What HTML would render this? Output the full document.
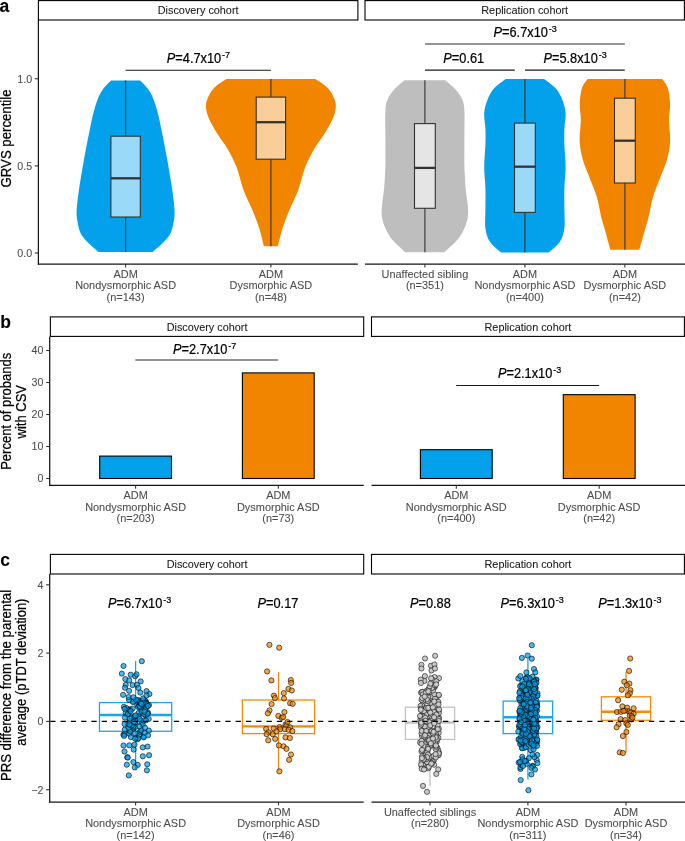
<!DOCTYPE html><html><head><meta charset="utf-8"><style>html,body{margin:0;padding:0;overflow:hidden;background:#fff}svg{display:block;will-change:transform}text{font-family:"Liberation Sans",sans-serif}</style></head><body>
<svg width="685" height="841" viewBox="0 0 685 841">
<text x="-0.5" y="11.6" font-size="17.5" text-anchor="start" fill="#000" stroke="#000" stroke-width="0.08" font-weight="bold">a</text>
<rect x="38.4" y="0.6" width="319.5" height="19.4" fill="#fff" stroke="#000" stroke-width="1.1"/>
<text x="198.15" y="14.4" font-size="10.85" text-anchor="middle" fill="#1a1a1a" stroke="#1a1a1a" stroke-width="0.08" font-weight="normal">Discovery cohort</text>
<rect x="365" y="0.6" width="319.4" height="19.4" fill="#fff" stroke="#000" stroke-width="1.1"/>
<text x="524.7" y="14.4" font-size="10.85" text-anchor="middle" fill="#1a1a1a" stroke="#1a1a1a" stroke-width="0.08" font-weight="normal">Replication cohort</text>
<path d="M140.3,80.6 C141.98,82.6 147.58,87.58 150.4,92.6 C153.22,97.62 155.32,104.3 157.2,110.7 C159.08,117.1 160,122.72 161.7,131 C163.4,139.28 165.7,150.97 167.4,160.4 C169.1,169.83 170.77,180.05 171.9,187.6 C173.03,195.15 173.75,201.3 174.2,205.7 C174.65,210.1 174.67,211.45 174.6,214 C174.53,216.55 174.43,217.87 173.8,221 C173.17,224.13 172.43,229.33 170.8,232.8 C169.17,236.27 167.02,238.6 164,241.8 C160.98,245 154.58,250.3 152.7,252 L98.5,252 C96.62,250.3 90.22,245 87.2,241.8 C84.18,238.6 82.03,236.27 80.4,232.8 C78.77,229.33 78.03,224.13 77.4,221 C76.77,217.87 76.67,216.55 76.6,214 C76.53,211.45 76.55,210.1 77,205.7 C77.45,201.3 78.17,195.15 79.3,187.6 C80.43,180.05 82.1,169.83 83.8,160.4 C85.5,150.97 87.8,139.28 89.5,131 C91.2,122.72 92.12,117.1 94,110.7 C95.88,104.3 97.98,97.62 100.8,92.6 C103.62,87.58 109.22,82.6 110.9,80.6 Z" fill="#03a0eb"/>
<path d="M315.4,79 C317.47,80.5 324.6,84.6 327.8,88 C331,91.4 333.28,96 334.6,99.4 C335.92,102.8 336.08,105.02 335.7,108.4 C335.32,111.78 334.37,115.18 332.3,119.7 C330.23,124.22 326.32,130.62 323.3,135.5 C320.28,140.38 317.22,143.73 314.2,149 C311.18,154.27 307.83,160.32 305.2,167.1 C302.57,173.88 301.03,182.55 298.4,189.7 C295.77,196.85 292.03,203.6 289.4,210 C286.77,216.4 284.52,222.07 282.6,228.1 C280.68,234.13 278.68,243.18 277.9,246.2 L263.9,246.2 C263.12,243.18 261.12,234.13 259.2,228.1 C257.28,222.07 255.03,216.4 252.4,210 C249.77,203.6 246.03,196.85 243.4,189.7 C240.77,182.55 239.23,173.88 236.6,167.1 C233.97,160.32 230.62,154.27 227.6,149 C224.58,143.73 221.52,140.38 218.5,135.5 C215.48,130.62 211.57,124.22 209.5,119.7 C207.43,115.18 206.48,111.78 206.1,108.4 C205.72,105.02 205.88,102.8 207.2,99.4 C208.52,96 210.8,91.4 214,88 C217.2,84.6 224.33,80.5 226.4,79 Z" fill="#f28500"/>
<path d="M445.2,80.2 C446.9,81.7 452.57,86 455.4,89.2 C458.23,92.4 460.7,95.82 462.2,99.4 C463.7,102.98 464.03,104.3 464.4,110.7 C464.77,117.1 464.4,128.77 464.4,137.8 C464.4,146.83 464.2,156.62 464.4,164.9 C464.6,173.18 465.03,180.72 465.6,187.5 C466.17,194.28 467.43,200.7 467.8,205.6 C468.17,210.5 468.37,213.13 467.8,216.9 C467.23,220.67 466.08,224.43 464.4,228.2 C462.72,231.97 461.03,235.48 457.7,239.5 C454.37,243.52 446.62,250.17 444.4,252.3 L405.4,252.3 C403.18,250.17 395.43,243.52 392.1,239.5 C388.77,235.48 387.08,231.97 385.4,228.2 C383.72,224.43 382.57,220.67 382,216.9 C381.43,213.13 381.63,210.5 382,205.6 C382.37,200.7 383.63,194.28 384.2,187.5 C384.77,180.72 385.2,173.18 385.4,164.9 C385.6,156.62 385.4,146.83 385.4,137.8 C385.4,128.77 385.03,117.1 385.4,110.7 C385.77,104.3 386.1,102.98 387.6,99.4 C389.1,95.82 391.57,92.4 394.4,89.2 C397.23,86 402.9,81.7 404.6,80.2 Z" fill="#bebebe"/>
<path d="M544.1,79 C545.98,80.52 552.38,84.7 555.4,88.1 C558.42,91.5 560.5,95.27 562.2,99.4 C563.9,103.53 565.23,108 565.6,112.9 C565.97,117.8 564.6,123.52 564.4,128.8 C564.2,134.08 564.2,138.2 564.4,144.6 C564.6,151 565.6,160.05 565.6,167.2 C565.6,174.35 564.6,180.35 564.4,187.5 C564.2,194.65 564.4,203.32 564.4,210.1 C564.4,216.88 565.15,222.92 564.4,228.2 C563.65,233.48 562.53,237.73 559.9,241.8 C557.27,245.87 550.48,250.8 548.6,252.6 L501.2,252.6 C499.32,250.8 492.53,245.87 489.9,241.8 C487.27,237.73 486.15,233.48 485.4,228.2 C484.65,222.92 485.4,216.88 485.4,210.1 C485.4,203.32 485.6,194.65 485.4,187.5 C485.2,180.35 484.2,174.35 484.2,167.2 C484.2,160.05 485.2,151 485.4,144.6 C485.6,138.2 485.6,134.08 485.4,128.8 C485.2,123.52 483.83,117.8 484.2,112.9 C484.57,108 485.9,103.53 487.6,99.4 C489.3,95.27 491.38,91.5 494.4,88.1 C497.42,84.7 503.82,80.52 505.7,79 Z" fill="#03a0eb"/>
<path d="M662.2,79 C663.13,80.52 666.48,83.95 667.8,88.1 C669.12,92.25 669.9,98.63 670.1,103.9 C670.3,109.17 669,113.3 669,119.7 C669,126.1 670.48,135.52 670.1,142.3 C669.72,149.08 668.4,154.37 666.7,160.4 C665,166.43 662.17,172.47 659.9,178.5 C657.63,184.53 654.98,190.2 653.1,196.6 C651.22,203 650.1,210.88 648.6,216.9 C647.1,222.92 645.63,227.23 644.1,232.7 C642.57,238.17 640.18,246.87 639.4,249.7 L610.4,249.7 C609.62,246.87 607.23,238.17 605.7,232.7 C604.17,227.23 602.7,222.92 601.2,216.9 C599.7,210.88 598.58,203 596.7,196.6 C594.82,190.2 592.17,184.53 589.9,178.5 C587.63,172.47 584.8,166.43 583.1,160.4 C581.4,154.37 580.08,149.08 579.7,142.3 C579.32,135.52 580.8,126.1 580.8,119.7 C580.8,113.3 579.5,109.17 579.7,103.9 C579.9,98.63 580.68,92.25 582,88.1 C583.32,83.95 586.67,80.52 587.6,79 Z" fill="#f28500"/>
<line x1="125.6" y1="80.6" x2="125.6" y2="136.2" stroke="#333333" stroke-width="1.1"/>
<line x1="125.6" y1="217" x2="125.6" y2="252" stroke="#333333" stroke-width="1.1"/>
<rect x="110.9" y="136.2" width="29.4" height="80.8" fill="#9ad9f7" stroke="#333333" stroke-width="1.1"/>
<line x1="110.9" y1="178.3" x2="140.3" y2="178.3" stroke="#333333" stroke-width="2.3"/>
<line x1="270.9" y1="79" x2="270.9" y2="97.1" stroke="#333333" stroke-width="1.1"/>
<line x1="270.9" y1="159.2" x2="270.9" y2="246.2" stroke="#333333" stroke-width="1.1"/>
<rect x="256.2" y="97.1" width="29.4" height="62.1" fill="#face99" stroke="#333333" stroke-width="1.1"/>
<line x1="256.2" y1="122.2" x2="285.6" y2="122.2" stroke="#333333" stroke-width="2.3"/>
<line x1="424.9" y1="80.2" x2="424.9" y2="123.6" stroke="#333333" stroke-width="1.1"/>
<line x1="424.9" y1="208.3" x2="424.9" y2="252.3" stroke="#333333" stroke-width="1.1"/>
<rect x="414.5" y="123.6" width="20.8" height="84.7" fill="#e5e5e5" stroke="#333333" stroke-width="1.1"/>
<line x1="414.5" y1="167.9" x2="435.3" y2="167.9" stroke="#333333" stroke-width="2.3"/>
<line x1="524.9" y1="79" x2="524.9" y2="123.1" stroke="#333333" stroke-width="1.1"/>
<line x1="524.9" y1="212.4" x2="524.9" y2="252.6" stroke="#333333" stroke-width="1.1"/>
<rect x="514.5" y="123.1" width="20.8" height="89.3" fill="#9ad9f7" stroke="#333333" stroke-width="1.1"/>
<line x1="514.5" y1="166.7" x2="535.3" y2="166.7" stroke="#333333" stroke-width="2.3"/>
<line x1="624.9" y1="79" x2="624.9" y2="98.2" stroke="#333333" stroke-width="1.1"/>
<line x1="624.9" y1="183" x2="624.9" y2="249.7" stroke="#333333" stroke-width="1.1"/>
<rect x="614.5" y="98.2" width="20.8" height="84.8" fill="#face99" stroke="#333333" stroke-width="1.1"/>
<line x1="614.5" y1="140.7" x2="635.3" y2="140.7" stroke="#333333" stroke-width="2.3"/>
<line x1="38.4" y1="20" x2="38.4" y2="264.6" stroke="#151515" stroke-width="1.25"/>
<line x1="37.8" y1="264" x2="357.9" y2="264" stroke="#151515" stroke-width="1.25"/>
<line x1="365" y1="264" x2="685" y2="264" stroke="#151515" stroke-width="1.25"/>
<line x1="34.8" y1="78.8" x2="38.4" y2="78.8" stroke="#333" stroke-width="1.1"/>
<text x="32.1" y="82.6" font-size="10.7" text-anchor="end" fill="#4d4d4d" stroke="#4d4d4d" stroke-width="0.08" font-weight="normal">1.0</text>
<line x1="34.8" y1="165.9" x2="38.4" y2="165.9" stroke="#333" stroke-width="1.1"/>
<text x="32.1" y="169.7" font-size="10.7" text-anchor="end" fill="#4d4d4d" stroke="#4d4d4d" stroke-width="0.08" font-weight="normal">0.5</text>
<line x1="34.8" y1="253" x2="38.4" y2="253" stroke="#333" stroke-width="1.1"/>
<text x="32.1" y="256.8" font-size="10.7" text-anchor="end" fill="#4d4d4d" stroke="#4d4d4d" stroke-width="0.08" font-weight="normal">0.0</text>
<line x1="125.6" y1="264" x2="125.6" y2="267.4" stroke="#333" stroke-width="1.1"/>
<line x1="270.9" y1="264" x2="270.9" y2="267.4" stroke="#333" stroke-width="1.1"/>
<line x1="424.9" y1="264" x2="424.9" y2="267.4" stroke="#333" stroke-width="1.1"/>
<line x1="524.9" y1="264" x2="524.9" y2="267.4" stroke="#333" stroke-width="1.1"/>
<line x1="624.9" y1="264" x2="624.9" y2="267.4" stroke="#333" stroke-width="1.1"/>
<text x="125.6" y="277.9" font-size="10.95" text-anchor="middle" fill="#4d4d4d" stroke="#4d4d4d" stroke-width="0.08" font-weight="normal">ADM</text>
<text x="125.6" y="289.35" font-size="10.95" text-anchor="middle" fill="#4d4d4d" stroke="#4d4d4d" stroke-width="0.08" font-weight="normal">Nondysmorphic ASD</text>
<text x="125.6" y="300.8" font-size="10.95" text-anchor="middle" fill="#4d4d4d" stroke="#4d4d4d" stroke-width="0.08" font-weight="normal">(n=143)</text>
<text x="270.9" y="277.9" font-size="10.95" text-anchor="middle" fill="#4d4d4d" stroke="#4d4d4d" stroke-width="0.08" font-weight="normal">ADM</text>
<text x="270.9" y="289.35" font-size="10.95" text-anchor="middle" fill="#4d4d4d" stroke="#4d4d4d" stroke-width="0.08" font-weight="normal">Dysmorphic ASD</text>
<text x="270.9" y="300.8" font-size="10.95" text-anchor="middle" fill="#4d4d4d" stroke="#4d4d4d" stroke-width="0.08" font-weight="normal">(n=48)</text>
<text x="424.9" y="277.9" font-size="10.95" text-anchor="middle" fill="#4d4d4d" stroke="#4d4d4d" stroke-width="0.08" font-weight="normal">Unaffected sibling</text>
<text x="424.9" y="289.35" font-size="10.95" text-anchor="middle" fill="#4d4d4d" stroke="#4d4d4d" stroke-width="0.08" font-weight="normal">(n=351)</text>
<text x="524.9" y="277.9" font-size="10.95" text-anchor="middle" fill="#4d4d4d" stroke="#4d4d4d" stroke-width="0.08" font-weight="normal">ADM</text>
<text x="524.9" y="289.35" font-size="10.95" text-anchor="middle" fill="#4d4d4d" stroke="#4d4d4d" stroke-width="0.08" font-weight="normal">Nondysmorphic ASD</text>
<text x="524.9" y="300.8" font-size="10.95" text-anchor="middle" fill="#4d4d4d" stroke="#4d4d4d" stroke-width="0.08" font-weight="normal">(n=400)</text>
<text x="624.9" y="277.9" font-size="10.95" text-anchor="middle" fill="#4d4d4d" stroke="#4d4d4d" stroke-width="0.08" font-weight="normal">ADM</text>
<text x="624.9" y="289.35" font-size="10.95" text-anchor="middle" fill="#4d4d4d" stroke="#4d4d4d" stroke-width="0.08" font-weight="normal">Dysmorphic ASD</text>
<text x="624.9" y="300.8" font-size="10.95" text-anchor="middle" fill="#4d4d4d" stroke="#4d4d4d" stroke-width="0.08" font-weight="normal">(n=42)</text>
<text transform="translate(11.4,138.45) rotate(-90) scale(1,1.1)" font-size="13.2" text-anchor="middle" fill="#000" stroke="#000" stroke-width="0.22">GRVS percentile</text>
<line x1="125.6" y1="70.25" x2="270.9" y2="70.25" stroke="#1a1a1a" stroke-width="1.15"/>
<text transform="translate(166.8,62.7) scale(1,1.1)" font-size="12.8" fill="#000" stroke="#000" stroke-width="0.22"><tspan font-style="italic">P</tspan>=4.7x10<tspan dx="0.9" dy="-4.5" font-size="9">-7</tspan></text>
<line x1="425" y1="44" x2="624.8" y2="44" stroke="#2a2a2a" stroke-width="1.15"/>
<text transform="translate(493.5,36.8) scale(1,1.1)" font-size="12.8" fill="#000" stroke="#000" stroke-width="0.22"><tspan font-style="italic">P</tspan>=6.7x10<tspan dx="0.9" dy="-4.5" font-size="9">-3</tspan></text>
<line x1="425" y1="70.15" x2="514.8" y2="70.15" stroke="#1a1a1a" stroke-width="1.15"/>
<text transform="translate(443.3,62.5) scale(1,1.1)" font-size="12.8" fill="#000" stroke="#000" stroke-width="0.22"><tspan font-style="italic">P</tspan>=0.61</text>
<line x1="525.1" y1="70.15" x2="624.8" y2="70.15" stroke="#1a1a1a" stroke-width="1.15"/>
<text transform="translate(543.4,62.5) scale(1,1.1)" font-size="12.8" fill="#000" stroke="#000" stroke-width="0.22"><tspan font-style="italic">P</tspan>=5.8x10<tspan dx="0.9" dy="-4.5" font-size="9">-3</tspan></text>
<text x="0.3" y="327.7" font-size="17.5" text-anchor="start" fill="#000" stroke="#000" stroke-width="0.08" font-weight="bold">b</text>
<rect x="50.4" y="316.9" width="313.3" height="19.5" fill="#fff" stroke="#000" stroke-width="1.1"/>
<text x="207.05" y="330.6" font-size="10.85" text-anchor="middle" fill="#1a1a1a" stroke="#1a1a1a" stroke-width="0.08" font-weight="normal">Discovery cohort</text>
<rect x="371.5" y="316.9" width="312.9" height="19.5" fill="#fff" stroke="#000" stroke-width="1.1"/>
<text x="527.95" y="330.6" font-size="10.85" text-anchor="middle" fill="#1a1a1a" stroke="#1a1a1a" stroke-width="0.08" font-weight="normal">Replication cohort</text>
<rect x="99.7" y="456.1" width="71.8" height="22.4" fill="#03a0eb" stroke="#000" stroke-width="1.1"/>
<rect x="242.4" y="372.9" width="71.8" height="105.6" fill="#f28500" stroke="#000" stroke-width="1.1"/>
<rect x="420.4" y="449.7" width="71.8" height="28.8" fill="#03a0eb" stroke="#000" stroke-width="1.1"/>
<rect x="563.3" y="394.66" width="71.8" height="83.84" fill="#f28500" stroke="#000" stroke-width="1.1"/>
<line x1="49.7" y1="336.4" x2="49.7" y2="485.9" stroke="#151515" stroke-width="1.25"/>
<line x1="49.1" y1="485.3" x2="363.7" y2="485.3" stroke="#151515" stroke-width="1.25"/>
<line x1="371.5" y1="485.3" x2="685" y2="485.3" stroke="#151515" stroke-width="1.25"/>
<line x1="46.1" y1="478.5" x2="49.7" y2="478.5" stroke="#333" stroke-width="1.1"/>
<text x="43.4" y="482.3" font-size="10.7" text-anchor="end" fill="#4d4d4d" stroke="#4d4d4d" stroke-width="0.08" font-weight="normal">0</text>
<line x1="46.1" y1="446.5" x2="49.7" y2="446.5" stroke="#333" stroke-width="1.1"/>
<text x="43.4" y="450.3" font-size="10.7" text-anchor="end" fill="#4d4d4d" stroke="#4d4d4d" stroke-width="0.08" font-weight="normal">10</text>
<line x1="46.1" y1="414.5" x2="49.7" y2="414.5" stroke="#333" stroke-width="1.1"/>
<text x="43.4" y="418.3" font-size="10.7" text-anchor="end" fill="#4d4d4d" stroke="#4d4d4d" stroke-width="0.08" font-weight="normal">20</text>
<line x1="46.1" y1="382.5" x2="49.7" y2="382.5" stroke="#333" stroke-width="1.1"/>
<text x="43.4" y="386.3" font-size="10.7" text-anchor="end" fill="#4d4d4d" stroke="#4d4d4d" stroke-width="0.08" font-weight="normal">30</text>
<line x1="46.1" y1="350.5" x2="49.7" y2="350.5" stroke="#333" stroke-width="1.1"/>
<text x="43.4" y="354.3" font-size="10.7" text-anchor="end" fill="#4d4d4d" stroke="#4d4d4d" stroke-width="0.08" font-weight="normal">40</text>
<line x1="135.6" y1="485.3" x2="135.6" y2="488.7" stroke="#333" stroke-width="1.1"/>
<line x1="278.3" y1="485.3" x2="278.3" y2="488.7" stroke="#333" stroke-width="1.1"/>
<line x1="456.3" y1="485.3" x2="456.3" y2="488.7" stroke="#333" stroke-width="1.1"/>
<line x1="599.2" y1="485.3" x2="599.2" y2="488.7" stroke="#333" stroke-width="1.1"/>
<text x="135.6" y="499.3" font-size="10.95" text-anchor="middle" fill="#4d4d4d" stroke="#4d4d4d" stroke-width="0.08" font-weight="normal">ADM</text>
<text x="135.6" y="510.75" font-size="10.95" text-anchor="middle" fill="#4d4d4d" stroke="#4d4d4d" stroke-width="0.08" font-weight="normal">Nondysmorphic ASD</text>
<text x="135.6" y="522.2" font-size="10.95" text-anchor="middle" fill="#4d4d4d" stroke="#4d4d4d" stroke-width="0.08" font-weight="normal">(n=203)</text>
<text x="278.3" y="499.3" font-size="10.95" text-anchor="middle" fill="#4d4d4d" stroke="#4d4d4d" stroke-width="0.08" font-weight="normal">ADM</text>
<text x="278.3" y="510.75" font-size="10.95" text-anchor="middle" fill="#4d4d4d" stroke="#4d4d4d" stroke-width="0.08" font-weight="normal">Dysmorphic ASD</text>
<text x="278.3" y="522.2" font-size="10.95" text-anchor="middle" fill="#4d4d4d" stroke="#4d4d4d" stroke-width="0.08" font-weight="normal">(n=73)</text>
<text x="456.3" y="499.3" font-size="10.95" text-anchor="middle" fill="#4d4d4d" stroke="#4d4d4d" stroke-width="0.08" font-weight="normal">ADM</text>
<text x="456.3" y="510.75" font-size="10.95" text-anchor="middle" fill="#4d4d4d" stroke="#4d4d4d" stroke-width="0.08" font-weight="normal">Nondysmorphic ASD</text>
<text x="456.3" y="522.2" font-size="10.95" text-anchor="middle" fill="#4d4d4d" stroke="#4d4d4d" stroke-width="0.08" font-weight="normal">(n=400)</text>
<text x="599.2" y="499.3" font-size="10.95" text-anchor="middle" fill="#4d4d4d" stroke="#4d4d4d" stroke-width="0.08" font-weight="normal">ADM</text>
<text x="599.2" y="510.75" font-size="10.95" text-anchor="middle" fill="#4d4d4d" stroke="#4d4d4d" stroke-width="0.08" font-weight="normal">Dysmorphic ASD</text>
<text x="599.2" y="522.2" font-size="10.95" text-anchor="middle" fill="#4d4d4d" stroke="#4d4d4d" stroke-width="0.08" font-weight="normal">(n=42)</text>
<text transform="translate(11.3,411.3) rotate(-90) scale(1,1.1)" font-size="13" text-anchor="middle" fill="#000" stroke="#000" stroke-width="0.22">Percent of probands</text>
<text transform="translate(26,411.7) rotate(-90) scale(1,1.1)" font-size="13" text-anchor="middle" fill="#000" stroke="#000" stroke-width="0.22">with CSV</text>
<line x1="135.3" y1="360" x2="278.2" y2="360" stroke="#2a2a2a" stroke-width="1.15"/>
<text transform="translate(173,353.8) scale(1,1.1)" font-size="12.8" fill="#000" stroke="#000" stroke-width="0.22"><tspan font-style="italic">P</tspan>=2.7x10<tspan dx="0.9" dy="-4.5" font-size="9">-7</tspan></text>
<line x1="456.2" y1="385.5" x2="599.2" y2="385.5" stroke="#1a1a1a" stroke-width="1.15"/>
<text transform="translate(497.9,377.8) scale(1,1.1)" font-size="12.8" fill="#000" stroke="#000" stroke-width="0.22"><tspan font-style="italic">P</tspan>=2.1x10<tspan dx="0.9" dy="-4.5" font-size="9">-3</tspan></text>
<text x="0.3" y="565.6" font-size="17.5" text-anchor="start" fill="#000" stroke="#000" stroke-width="0.08" font-weight="bold">c</text>
<rect x="50.4" y="554.4" width="313.3" height="19.6" fill="#fff" stroke="#000" stroke-width="1.1"/>
<text x="207.05" y="568.2" font-size="10.85" text-anchor="middle" fill="#1a1a1a" stroke="#1a1a1a" stroke-width="0.08" font-weight="normal">Discovery cohort</text>
<rect x="371.5" y="554.4" width="312.9" height="19.6" fill="#fff" stroke="#000" stroke-width="1.1"/>
<text x="527.95" y="568.2" font-size="10.85" text-anchor="middle" fill="#1a1a1a" stroke="#1a1a1a" stroke-width="0.08" font-weight="normal">Replication cohort</text>
<g stroke="#1aa6ee" fill="none">
<line x1="135.6" y1="661" x2="135.6" y2="702.6" stroke-width="1.3"/>
<line x1="135.6" y1="731.3" x2="135.6" y2="769.7" stroke-width="1.3"/>
<rect x="99.5" y="702.6" width="72.2" height="28.7" stroke-width="1.3"/>
<line x1="99.5" y1="715" x2="171.7" y2="715" stroke-width="2.4"/>
</g>
<g fill="#03a0eb" fill-opacity="0.72" stroke="#000" stroke-width="0.7" stroke-opacity="0.85">
<circle cx="130.29" cy="709.83" r="2.6"/>
<circle cx="123.91" cy="706.84" r="2.6"/>
<circle cx="133.25" cy="719.89" r="2.6"/>
<circle cx="145.87" cy="701.21" r="2.6"/>
<circle cx="123.39" cy="734.72" r="2.6"/>
<circle cx="139.65" cy="732.2" r="2.6"/>
<circle cx="133.05" cy="728.34" r="2.6"/>
<circle cx="139" cy="734.96" r="2.6"/>
<circle cx="145.53" cy="715.11" r="2.6"/>
<circle cx="141.32" cy="712.06" r="2.6"/>
<circle cx="140.22" cy="731.73" r="2.6"/>
<circle cx="147.7" cy="713.47" r="2.6"/>
<circle cx="138.1" cy="700.78" r="2.6"/>
<circle cx="138.69" cy="712.88" r="2.6"/>
<circle cx="139.74" cy="722.23" r="2.6"/>
<circle cx="144.05" cy="736.63" r="2.6"/>
<circle cx="137.2" cy="704.77" r="2.6"/>
<circle cx="124.55" cy="734.07" r="2.6"/>
<circle cx="144.26" cy="714.27" r="2.6"/>
<circle cx="141.73" cy="711.03" r="2.6"/>
<circle cx="130" cy="709.34" r="2.6"/>
<circle cx="136.31" cy="738" r="2.6"/>
<circle cx="131.55" cy="717.79" r="2.6"/>
<circle cx="128.94" cy="710.72" r="2.6"/>
<circle cx="138.2" cy="707" r="2.6"/>
<circle cx="141.99" cy="705.33" r="2.6"/>
<circle cx="124.09" cy="735.88" r="2.6"/>
<circle cx="127.62" cy="723.3" r="2.6"/>
<circle cx="146.79" cy="703.47" r="2.6"/>
<circle cx="138.83" cy="701.79" r="2.6"/>
<circle cx="137.55" cy="739.29" r="2.6"/>
<circle cx="129.29" cy="733.76" r="2.6"/>
<circle cx="130.01" cy="725.61" r="2.6"/>
<circle cx="146.67" cy="706.54" r="2.6"/>
<circle cx="137.89" cy="702.21" r="2.6"/>
<circle cx="144.8" cy="700.61" r="2.6"/>
<circle cx="138.15" cy="717.18" r="2.6"/>
<circle cx="141.4" cy="730.19" r="2.6"/>
<circle cx="133.41" cy="728.84" r="2.6"/>
<circle cx="142.03" cy="722.66" r="2.6"/>
<circle cx="148.98" cy="705.03" r="2.6"/>
<circle cx="128.3" cy="709.37" r="2.6"/>
<circle cx="133.1" cy="701.03" r="2.6"/>
<circle cx="148.03" cy="712.48" r="2.6"/>
<circle cx="138.27" cy="738.32" r="2.6"/>
<circle cx="143.62" cy="737.32" r="2.6"/>
<circle cx="134.78" cy="716.13" r="2.6"/>
<circle cx="138.63" cy="700.22" r="2.6"/>
<circle cx="130.01" cy="721.27" r="2.6"/>
<circle cx="129.72" cy="718.5" r="2.6"/>
<circle cx="128.97" cy="729.97" r="2.6"/>
<circle cx="145.65" cy="702.73" r="2.6"/>
<circle cx="142.71" cy="724.6" r="2.6"/>
<circle cx="124.56" cy="724.08" r="2.6"/>
<circle cx="146.16" cy="707.82" r="2.6"/>
<circle cx="145.03" cy="727.83" r="2.6"/>
<circle cx="126.42" cy="708.09" r="2.6"/>
<circle cx="127.01" cy="714.87" r="2.6"/>
<circle cx="135.06" cy="733.37" r="2.6"/>
<circle cx="125.7" cy="712.69" r="2.6"/>
<circle cx="124.57" cy="708.84" r="2.6"/>
<circle cx="146.41" cy="704.19" r="2.6"/>
<circle cx="140.08" cy="707.25" r="2.6"/>
<circle cx="144.9" cy="732.7" r="2.6"/>
<circle cx="143.55" cy="702.57" r="2.6"/>
<circle cx="134.63" cy="722.95" r="2.6"/>
<circle cx="148.08" cy="735.27" r="2.6"/>
<circle cx="130.89" cy="737.1" r="2.6"/>
<circle cx="148.72" cy="719.02" r="2.6"/>
<circle cx="139.62" cy="701.67" r="2.6"/>
<circle cx="132.59" cy="708.58" r="2.6"/>
<circle cx="130.23" cy="731.28" r="2.6"/>
<circle cx="135.22" cy="726.93" r="2.6"/>
<circle cx="143.89" cy="720.46" r="2.6"/>
<circle cx="139.37" cy="726.4" r="2.6"/>
<circle cx="138.63" cy="716.65" r="2.6"/>
<circle cx="133.33" cy="726.44" r="2.6"/>
<circle cx="139.54" cy="705.84" r="2.6"/>
<circle cx="127.93" cy="714.15" r="2.6"/>
<circle cx="132.94" cy="702.03" r="2.6"/>
<circle cx="142.51" cy="700.45" r="2.6"/>
<circle cx="135.58" cy="715.4" r="2.6"/>
<circle cx="146.01" cy="720.3" r="2.6"/>
<circle cx="131.65" cy="725.47" r="2.6"/>
<circle cx="130.63" cy="711.23" r="2.6"/>
<circle cx="147.45" cy="713.63" r="2.6"/>
<circle cx="128.99" cy="699.87" r="2.6"/>
<circle cx="139.69" cy="719.13" r="2.6"/>
<circle cx="124.83" cy="729.52" r="2.6"/>
<circle cx="145.16" cy="710.2" r="2.6"/>
<circle cx="128.45" cy="727.81" r="2.6"/>
<circle cx="135.93" cy="699.57" r="2.6"/>
<circle cx="140.81" cy="703.27" r="2.6"/>
<circle cx="148.89" cy="730.57" r="2.6"/>
<circle cx="133.94" cy="721.77" r="2.6"/>
<circle cx="124.91" cy="717.54" r="2.6"/>
<circle cx="135.11" cy="738.59" r="2.6"/>
<circle cx="129.41" cy="724.53" r="2.6"/>
<circle cx="144.42" cy="711.7" r="2.6"/>
<circle cx="141.3" cy="703.84" r="2.6"/>
<circle cx="148.03" cy="705.95" r="2.6"/>
<circle cx="141.8" cy="661.2" r="2.6"/>
<circle cx="123.5" cy="666" r="2.6"/>
<circle cx="121.8" cy="673.6" r="2.6"/>
<circle cx="130.7" cy="674.7" r="2.6"/>
<circle cx="135.2" cy="676.2" r="2.6"/>
<circle cx="136.6" cy="674.3" r="2.6"/>
<circle cx="125.3" cy="679.1" r="2.6"/>
<circle cx="129.3" cy="680.4" r="2.6"/>
<circle cx="140.7" cy="681.4" r="2.6"/>
<circle cx="125.7" cy="684.9" r="2.6"/>
<circle cx="125" cy="687.7" r="2.6"/>
<circle cx="132.6" cy="685.1" r="2.6"/>
<circle cx="137" cy="684.8" r="2.6"/>
<circle cx="138.5" cy="688" r="2.6"/>
<circle cx="129.1" cy="690.8" r="2.6"/>
<circle cx="140.3" cy="692.6" r="2.6"/>
<circle cx="146.5" cy="691.1" r="2.6"/>
<circle cx="149.4" cy="694.1" r="2.6"/>
<circle cx="123.1" cy="694.8" r="2.6"/>
<circle cx="128.6" cy="697" r="2.6"/>
<circle cx="133.4" cy="697.3" r="2.6"/>
<circle cx="143.2" cy="698.4" r="2.6"/>
<circle cx="146.5" cy="695.5" r="2.6"/>
<circle cx="123.5" cy="745.5" r="2.6"/>
<circle cx="129.3" cy="745.3" r="2.6"/>
<circle cx="134.5" cy="744.6" r="2.6"/>
<circle cx="133.7" cy="749.6" r="2.6"/>
<circle cx="142.8" cy="747.4" r="2.6"/>
<circle cx="147.6" cy="746.6" r="2.6"/>
<circle cx="124.5" cy="751.5" r="2.6"/>
<circle cx="127.2" cy="757.2" r="2.6"/>
<circle cx="127.8" cy="757.6" r="2.6"/>
<circle cx="142.8" cy="756.3" r="2.6"/>
<circle cx="149.1" cy="755.2" r="2.6"/>
<circle cx="133.4" cy="762.1" r="2.6"/>
<circle cx="137.7" cy="764.9" r="2.6"/>
<circle cx="134.8" cy="767.4" r="2.6"/>
<circle cx="126.8" cy="764.7" r="2.6"/>
<circle cx="147.2" cy="764.3" r="2.6"/>
<circle cx="146.9" cy="770.3" r="2.6"/>
<circle cx="128.8" cy="775.4" r="2.6"/>
</g>
<g stroke="#f28a0c" fill="none">
<line x1="278.5" y1="672.2" x2="278.5" y2="700" stroke-width="1.3"/>
<line x1="278.5" y1="733.6" x2="278.5" y2="770.7" stroke-width="1.3"/>
<rect x="242.4" y="700" width="72.2" height="33.6" stroke-width="1.3"/>
<line x1="242.4" y1="726.4" x2="314.6" y2="726.4" stroke-width="2.4"/>
</g>
<g fill="#f28500" fill-opacity="0.72" stroke="#000" stroke-width="0.7" stroke-opacity="0.85">
<circle cx="269.4" cy="644.8" r="2.6"/>
<circle cx="279.2" cy="647.7" r="2.6"/>
<circle cx="267.1" cy="671.4" r="2.6"/>
<circle cx="271.4" cy="680.4" r="2.6"/>
<circle cx="290.8" cy="680" r="2.6"/>
<circle cx="291.2" cy="682.9" r="2.6"/>
<circle cx="288.4" cy="688.9" r="2.6"/>
<circle cx="291.8" cy="690.5" r="2.6"/>
<circle cx="283.8" cy="693.1" r="2.6"/>
<circle cx="273.9" cy="695.6" r="2.6"/>
<circle cx="274.9" cy="698.1" r="2.6"/>
<circle cx="284" cy="698.4" r="2.6"/>
<circle cx="271.6" cy="704.1" r="2.6"/>
<circle cx="290.1" cy="703.2" r="2.6"/>
<circle cx="292.7" cy="703.8" r="2.6"/>
<circle cx="269.5" cy="710.4" r="2.6"/>
<circle cx="267.8" cy="713.3" r="2.6"/>
<circle cx="284.4" cy="712.1" r="2.6"/>
<circle cx="278.3" cy="715.9" r="2.6"/>
<circle cx="281.7" cy="717.8" r="2.6"/>
<circle cx="283.2" cy="717.1" r="2.6"/>
<circle cx="285.5" cy="724.5" r="2.6"/>
<circle cx="286.5" cy="725.6" r="2.6"/>
<circle cx="279.6" cy="727" r="2.6"/>
<circle cx="290.1" cy="727.3" r="2.6"/>
<circle cx="266.1" cy="728.9" r="2.6"/>
<circle cx="273.7" cy="728.5" r="2.6"/>
<circle cx="280.2" cy="729.2" r="2.6"/>
<circle cx="284.9" cy="729.2" r="2.6"/>
<circle cx="288.6" cy="729.8" r="2.6"/>
<circle cx="292.4" cy="731.1" r="2.6"/>
<circle cx="268.6" cy="732.3" r="2.6"/>
<circle cx="266.7" cy="734.2" r="2.6"/>
<circle cx="272.8" cy="734.2" r="2.6"/>
<circle cx="285.5" cy="737.4" r="2.6"/>
<circle cx="289.9" cy="738" r="2.6"/>
<circle cx="275.2" cy="738.9" r="2.6"/>
<circle cx="268.2" cy="740.3" r="2.6"/>
<circle cx="278.9" cy="745.4" r="2.6"/>
<circle cx="283.6" cy="746.3" r="2.6"/>
<circle cx="286.5" cy="748.8" r="2.6"/>
<circle cx="291" cy="754.5" r="2.6"/>
<circle cx="289.1" cy="759.8" r="2.6"/>
<circle cx="279.4" cy="771.3" r="2.6"/>
<circle cx="287.5" cy="722" r="2.6"/>
<circle cx="276.5" cy="731.5" r="2.6"/>
</g>
<g stroke="#c2c2c2" fill="none">
<line x1="430" y1="665.5" x2="430" y2="707.2" stroke-width="1.3"/>
<line x1="430" y1="739.4" x2="430" y2="785.7" stroke-width="1.3"/>
<rect x="405.4" y="707.2" width="49.2" height="32.2" stroke-width="1.3"/>
<line x1="405.4" y1="722.5" x2="454.6" y2="722.5" stroke-width="2.4"/>
</g>
<g fill="#c8c8c8" fill-opacity="1.0" stroke="#000" stroke-width="0.65" stroke-opacity="0.85">
<circle cx="437.64" cy="755.45" r="2.6"/>
<circle cx="423.99" cy="713.83" r="2.6"/>
<circle cx="424.41" cy="680.9" r="2.6"/>
<circle cx="433.78" cy="760.59" r="2.6"/>
<circle cx="432.5" cy="729.56" r="2.6"/>
<circle cx="428.82" cy="710.09" r="2.6"/>
<circle cx="430.35" cy="740" r="2.6"/>
<circle cx="431.93" cy="702.24" r="2.6"/>
<circle cx="430.17" cy="703.24" r="2.6"/>
<circle cx="424.04" cy="727.5" r="2.6"/>
<circle cx="438.97" cy="752.49" r="2.6"/>
<circle cx="425.85" cy="756.92" r="2.6"/>
<circle cx="437.13" cy="748.04" r="2.6"/>
<circle cx="424.75" cy="734.99" r="2.6"/>
<circle cx="423.78" cy="750.66" r="2.6"/>
<circle cx="427.1" cy="710.45" r="2.6"/>
<circle cx="427.59" cy="728.13" r="2.6"/>
<circle cx="432.83" cy="723.17" r="2.6"/>
<circle cx="438.15" cy="755.16" r="2.6"/>
<circle cx="428.22" cy="713" r="2.6"/>
<circle cx="426.45" cy="700.37" r="2.6"/>
<circle cx="428.21" cy="725.21" r="2.6"/>
<circle cx="421.56" cy="718.61" r="2.6"/>
<circle cx="431.05" cy="725.66" r="2.6"/>
<circle cx="422.68" cy="713.55" r="2.6"/>
<circle cx="424.92" cy="695.8" r="2.6"/>
<circle cx="438.72" cy="755" r="2.6"/>
<circle cx="431.73" cy="732.42" r="2.6"/>
<circle cx="423.79" cy="721.14" r="2.6"/>
<circle cx="422.76" cy="703.4" r="2.6"/>
<circle cx="431.52" cy="711.98" r="2.6"/>
<circle cx="439.06" cy="717.62" r="2.6"/>
<circle cx="420.43" cy="719.95" r="2.6"/>
<circle cx="436.65" cy="742" r="2.6"/>
<circle cx="426.71" cy="738.15" r="2.6"/>
<circle cx="427.3" cy="728.61" r="2.6"/>
<circle cx="421.12" cy="727.28" r="2.6"/>
<circle cx="435.96" cy="728.2" r="2.6"/>
<circle cx="430.63" cy="737.1" r="2.6"/>
<circle cx="422.73" cy="716.29" r="2.6"/>
<circle cx="437.26" cy="739.42" r="2.6"/>
<circle cx="433.95" cy="682.36" r="2.6"/>
<circle cx="428.54" cy="767.39" r="2.6"/>
<circle cx="422.94" cy="719.53" r="2.6"/>
<circle cx="438.74" cy="732.89" r="2.6"/>
<circle cx="423.24" cy="723.03" r="2.6"/>
<circle cx="422.32" cy="735.84" r="2.6"/>
<circle cx="428.14" cy="768.39" r="2.6"/>
<circle cx="435.08" cy="742.27" r="2.6"/>
<circle cx="431.29" cy="693.29" r="2.6"/>
<circle cx="420.72" cy="679.59" r="2.6"/>
<circle cx="430.4" cy="743.64" r="2.6"/>
<circle cx="425.1" cy="708.32" r="2.6"/>
<circle cx="427.24" cy="751.36" r="2.6"/>
<circle cx="439.01" cy="678.16" r="2.6"/>
<circle cx="428.63" cy="741.27" r="2.6"/>
<circle cx="434.14" cy="709.23" r="2.6"/>
<circle cx="438.22" cy="752.83" r="2.6"/>
<circle cx="421.36" cy="716.93" r="2.6"/>
<circle cx="437.57" cy="711.39" r="2.6"/>
<circle cx="422.12" cy="736.08" r="2.6"/>
<circle cx="428.63" cy="742.96" r="2.6"/>
<circle cx="430.97" cy="689.93" r="2.6"/>
<circle cx="438.25" cy="749.98" r="2.6"/>
<circle cx="426.65" cy="751.93" r="2.6"/>
<circle cx="425.67" cy="720.21" r="2.6"/>
<circle cx="432.32" cy="721.89" r="2.6"/>
<circle cx="426.96" cy="734.38" r="2.6"/>
<circle cx="432.04" cy="696.48" r="2.6"/>
<circle cx="437.02" cy="729.07" r="2.6"/>
<circle cx="427.86" cy="746.26" r="2.6"/>
<circle cx="432.22" cy="715.38" r="2.6"/>
<circle cx="423.26" cy="749.41" r="2.6"/>
<circle cx="438.89" cy="710.83" r="2.6"/>
<circle cx="426.97" cy="762.42" r="2.6"/>
<circle cx="427.73" cy="700.97" r="2.6"/>
<circle cx="438.43" cy="737.9" r="2.6"/>
<circle cx="433.82" cy="718.23" r="2.6"/>
<circle cx="421.18" cy="716.6" r="2.6"/>
<circle cx="429.88" cy="722.45" r="2.6"/>
<circle cx="428.16" cy="696.95" r="2.6"/>
<circle cx="434.56" cy="727.71" r="2.6"/>
<circle cx="426.26" cy="714.44" r="2.6"/>
<circle cx="425.6" cy="738.33" r="2.6"/>
<circle cx="430.1" cy="739.69" r="2.6"/>
<circle cx="429.56" cy="738.77" r="2.6"/>
<circle cx="432.57" cy="732.95" r="2.6"/>
<circle cx="424.77" cy="744.26" r="2.6"/>
<circle cx="436.26" cy="698.38" r="2.6"/>
<circle cx="423.38" cy="716.69" r="2.6"/>
<circle cx="434.58" cy="708.83" r="2.6"/>
<circle cx="422.03" cy="705.21" r="2.6"/>
<circle cx="424.57" cy="755.65" r="2.6"/>
<circle cx="424.37" cy="697.54" r="2.6"/>
<circle cx="434.82" cy="704.76" r="2.6"/>
<circle cx="429.76" cy="711.35" r="2.6"/>
<circle cx="426.74" cy="699.31" r="2.6"/>
<circle cx="422.5" cy="767.8" r="2.6"/>
<circle cx="438.68" cy="695.27" r="2.6"/>
<circle cx="423.32" cy="726.01" r="2.6"/>
<circle cx="430.24" cy="730" r="2.6"/>
<circle cx="431.21" cy="715.04" r="2.6"/>
<circle cx="422.16" cy="719.14" r="2.6"/>
<circle cx="435.5" cy="734.69" r="2.6"/>
<circle cx="434.17" cy="733.92" r="2.6"/>
<circle cx="428.54" cy="748.19" r="2.6"/>
<circle cx="435.3" cy="715.3" r="2.6"/>
<circle cx="420.46" cy="705.96" r="2.6"/>
<circle cx="434.07" cy="707.06" r="2.6"/>
<circle cx="431.92" cy="721.63" r="2.6"/>
<circle cx="428.59" cy="760.01" r="2.6"/>
<circle cx="428.37" cy="729.69" r="2.6"/>
<circle cx="427.52" cy="724.14" r="2.6"/>
<circle cx="434.99" cy="698.69" r="2.6"/>
<circle cx="430.54" cy="756.51" r="2.6"/>
<circle cx="430.78" cy="709.15" r="2.6"/>
<circle cx="427.99" cy="754.58" r="2.6"/>
<circle cx="433.08" cy="741.61" r="2.6"/>
<circle cx="422.95" cy="700.65" r="2.6"/>
<circle cx="432.18" cy="734.7" r="2.6"/>
<circle cx="428.09" cy="765.21" r="2.6"/>
<circle cx="421.02" cy="708.65" r="2.6"/>
<circle cx="434.57" cy="677.05" r="2.6"/>
<circle cx="420" cy="716" r="2.6"/>
<circle cx="436.81" cy="717.39" r="2.6"/>
<circle cx="427.5" cy="723.84" r="2.6"/>
<circle cx="434.8" cy="731.53" r="2.6"/>
<circle cx="428.49" cy="735.56" r="2.6"/>
<circle cx="438.19" cy="719.35" r="2.6"/>
<circle cx="436.11" cy="712.08" r="2.6"/>
<circle cx="428.91" cy="708.14" r="2.6"/>
<circle cx="423.51" cy="732.45" r="2.6"/>
<circle cx="430.94" cy="719.77" r="2.6"/>
<circle cx="421.9" cy="710.55" r="2.6"/>
<circle cx="431.32" cy="726.67" r="2.6"/>
<circle cx="427.08" cy="762.01" r="2.6"/>
<circle cx="438.86" cy="728.65" r="2.6"/>
<circle cx="431.64" cy="721.32" r="2.6"/>
<circle cx="433.58" cy="755.94" r="2.6"/>
<circle cx="426.08" cy="730.3" r="2.6"/>
<circle cx="420.99" cy="692.73" r="2.6"/>
<circle cx="435.88" cy="718.82" r="2.6"/>
<circle cx="421.46" cy="751.25" r="2.6"/>
<circle cx="438.29" cy="702.71" r="2.6"/>
<circle cx="435.76" cy="757.4" r="2.6"/>
<circle cx="432.12" cy="745.24" r="2.6"/>
<circle cx="431.58" cy="731.21" r="2.6"/>
<circle cx="421.5" cy="733.36" r="2.6"/>
<circle cx="434.64" cy="687.3" r="2.6"/>
<circle cx="434.05" cy="732.14" r="2.6"/>
<circle cx="432.17" cy="703.82" r="2.6"/>
<circle cx="426.21" cy="759.18" r="2.6"/>
<circle cx="432.68" cy="761.59" r="2.6"/>
<circle cx="437.9" cy="712.35" r="2.6"/>
<circle cx="422.22" cy="691.79" r="2.6"/>
<circle cx="423.96" cy="730.45" r="2.6"/>
<circle cx="436.9" cy="706.71" r="2.6"/>
<circle cx="422.24" cy="691.9" r="2.6"/>
<circle cx="427.44" cy="737.64" r="2.6"/>
<circle cx="437.36" cy="714.78" r="2.6"/>
<circle cx="436.83" cy="739.22" r="2.6"/>
<circle cx="424.58" cy="746.49" r="2.6"/>
<circle cx="435.22" cy="707.54" r="2.6"/>
<circle cx="436.08" cy="734.16" r="2.6"/>
<circle cx="423.94" cy="711.08" r="2.6"/>
<circle cx="434.32" cy="694.07" r="2.6"/>
<circle cx="438.73" cy="713.23" r="2.6"/>
<circle cx="422.33" cy="722.24" r="2.6"/>
<circle cx="421.1" cy="724.01" r="2.6"/>
<circle cx="436.36" cy="736.4" r="2.6"/>
<circle cx="434.1" cy="764.75" r="2.6"/>
<circle cx="434.58" cy="715.81" r="2.6"/>
<circle cx="430.48" cy="720.49" r="2.6"/>
<circle cx="438.62" cy="718.86" r="2.6"/>
<circle cx="435.68" cy="737.37" r="2.6"/>
<circle cx="432.86" cy="690.49" r="2.6"/>
<circle cx="432.62" cy="679.82" r="2.6"/>
<circle cx="438.16" cy="701.82" r="2.6"/>
<circle cx="421.56" cy="699.82" r="2.6"/>
<circle cx="428.21" cy="727.05" r="2.6"/>
<circle cx="432.13" cy="717.98" r="2.6"/>
<circle cx="437.64" cy="724.96" r="2.6"/>
<circle cx="425.34" cy="736.9" r="2.6"/>
<circle cx="426.48" cy="707.92" r="2.6"/>
<circle cx="421.99" cy="749.88" r="2.6"/>
<circle cx="430.98" cy="715.65" r="2.6"/>
<circle cx="429.09" cy="722.13" r="2.6"/>
<circle cx="431.07" cy="678.33" r="2.6"/>
<circle cx="431.92" cy="763.11" r="2.6"/>
<circle cx="435.54" cy="712.81" r="2.6"/>
<circle cx="432.69" cy="724.61" r="2.6"/>
<circle cx="432.88" cy="726.29" r="2.6"/>
<circle cx="430.3" cy="725.37" r="2.6"/>
<circle cx="434.33" cy="686.52" r="2.6"/>
<circle cx="434.22" cy="723.35" r="2.6"/>
<circle cx="437.77" cy="729.21" r="2.6"/>
<circle cx="431.75" cy="714.09" r="2.6"/>
<circle cx="425.29" cy="757.83" r="2.6"/>
<circle cx="438.7" cy="753.35" r="2.6"/>
<circle cx="420.08" cy="742.51" r="2.6"/>
<circle cx="426.52" cy="693.64" r="2.6"/>
<circle cx="422.06" cy="756.37" r="2.6"/>
<circle cx="438.84" cy="694.94" r="2.6"/>
<circle cx="431.9" cy="688.14" r="2.6"/>
<circle cx="427.1" cy="757.19" r="2.6"/>
<circle cx="426.82" cy="690.59" r="2.6"/>
<circle cx="435.54" cy="754.13" r="2.6"/>
<circle cx="420.74" cy="709.79" r="2.6"/>
<circle cx="421.65" cy="761.2" r="2.6"/>
<circle cx="429.22" cy="740.36" r="2.6"/>
<circle cx="428.75" cy="688.87" r="2.6"/>
<circle cx="423.76" cy="758.33" r="2.6"/>
<circle cx="430.56" cy="710.03" r="2.6"/>
<circle cx="425.22" cy="717.86" r="2.6"/>
<circle cx="424.72" cy="726.52" r="2.6"/>
<circle cx="425.46" cy="720.76" r="2.6"/>
<circle cx="424.17" cy="736.69" r="2.6"/>
<circle cx="435.28" cy="713.62" r="2.6"/>
<circle cx="422.84" cy="694.39" r="2.6"/>
<circle cx="426.05" cy="692.51" r="2.6"/>
<circle cx="421.65" cy="766.25" r="2.6"/>
<circle cx="438.78" cy="720.97" r="2.6"/>
<circle cx="433.79" cy="711.64" r="2.6"/>
<circle cx="421.11" cy="764.31" r="2.6"/>
<circle cx="433.05" cy="733.59" r="2.6"/>
<circle cx="429.69" cy="686.24" r="2.6"/>
<circle cx="420.84" cy="682.98" r="2.6"/>
<circle cx="428.74" cy="766.75" r="2.6"/>
<circle cx="430.31" cy="712.58" r="2.6"/>
<circle cx="423.49" cy="759.46" r="2.6"/>
<circle cx="430.7" cy="745.72" r="2.6"/>
<circle cx="422.23" cy="698.11" r="2.6"/>
<circle cx="435.07" cy="685.13" r="2.6"/>
<circle cx="428.22" cy="707.85" r="2.6"/>
<circle cx="431.31" cy="763.57" r="2.6"/>
<circle cx="424.72" cy="696.57" r="2.6"/>
<circle cx="427.92" cy="747.19" r="2.6"/>
<circle cx="437.19" cy="747.51" r="2.6"/>
<circle cx="436.29" cy="681.29" r="2.6"/>
<circle cx="435.61" cy="749.04" r="2.6"/>
<circle cx="421.89" cy="758.17" r="2.6"/>
<circle cx="421.78" cy="730.88" r="2.6"/>
<circle cx="435.93" cy="746.83" r="2.6"/>
<circle cx="421.2" cy="724.5" r="2.6"/>
<circle cx="432.93" cy="738.54" r="2.6"/>
<circle cx="436.39" cy="714.58" r="2.6"/>
<circle cx="434.11" cy="717.27" r="2.6"/>
<circle cx="421.6" cy="768.82" r="2.6"/>
<circle cx="436.19" cy="684.41" r="2.6"/>
<circle cx="435.87" cy="745.44" r="2.6"/>
<circle cx="430.74" cy="744.8" r="2.6"/>
<circle cx="430.39" cy="683.59" r="2.6"/>
<circle cx="434.94" cy="705.57" r="2.6"/>
<circle cx="421.57" cy="740.82" r="2.6"/>
<circle cx="428.1" cy="748.79" r="2.6"/>
<circle cx="421.22" cy="722.69" r="2.6"/>
<circle cx="430.77" cy="743.4" r="2.6"/>
<circle cx="432.8" cy="707.34" r="2.6"/>
<circle cx="438.21" cy="769.42" r="2.6"/>
<circle cx="439.02" cy="709.49" r="2.6"/>
<circle cx="426.28" cy="731.02" r="2.6"/>
<circle cx="421.51" cy="743.86" r="2.6"/>
<circle cx="433.61" cy="731.81" r="2.6"/>
<circle cx="438.5" cy="704.38" r="2.6"/>
<circle cx="434.2" cy="701.48" r="2.6"/>
<circle cx="424.98" cy="735.24" r="2.6"/>
<circle cx="428.36" cy="691.34" r="2.6"/>
<circle cx="424.91" cy="676.14" r="2.6"/>
<circle cx="435.1" cy="655.8" r="2.6"/>
<circle cx="425" cy="658.5" r="2.6"/>
<circle cx="421.4" cy="664.8" r="2.6"/>
<circle cx="431" cy="665.7" r="2.6"/>
<circle cx="434.5" cy="664.5" r="2.6"/>
<circle cx="421.4" cy="668.5" r="2.6"/>
<circle cx="431.5" cy="670.5" r="2.6"/>
<circle cx="435" cy="668.5" r="2.6"/>
<circle cx="423" cy="785.9" r="2.6"/>
<circle cx="427" cy="791.8" r="2.6"/>
<circle cx="436.3" cy="773.9" r="2.6"/>
<circle cx="424" cy="769.5" r="2.6"/>
</g>
<g stroke="#1aa6ee" fill="none">
<line x1="527.9" y1="658.3" x2="527.9" y2="701.1" stroke-width="1.3"/>
<line x1="527.9" y1="733.6" x2="527.9" y2="779.5" stroke-width="1.3"/>
<rect x="503.15" y="701.1" width="49.5" height="32.5" stroke-width="1.3"/>
<line x1="503.15" y1="717.3" x2="552.65" y2="717.3" stroke-width="2.4"/>
</g>
<g fill="#03a0eb" fill-opacity="0.72" stroke="#000" stroke-width="0.7" stroke-opacity="0.85">
<circle cx="530.02" cy="717.58" r="2.6"/>
<circle cx="527.23" cy="702.16" r="2.6"/>
<circle cx="519.74" cy="716.2" r="2.6"/>
<circle cx="537.01" cy="710.57" r="2.6"/>
<circle cx="522.69" cy="721.59" r="2.6"/>
<circle cx="523.86" cy="712.56" r="2.6"/>
<circle cx="523.07" cy="727.35" r="2.6"/>
<circle cx="530.09" cy="738.71" r="2.6"/>
<circle cx="527.2" cy="705.01" r="2.6"/>
<circle cx="533.03" cy="704.84" r="2.6"/>
<circle cx="526.11" cy="677.73" r="2.6"/>
<circle cx="524.52" cy="727.65" r="2.6"/>
<circle cx="535.24" cy="709.2" r="2.6"/>
<circle cx="533.71" cy="726.04" r="2.6"/>
<circle cx="522.14" cy="688.52" r="2.6"/>
<circle cx="521.68" cy="745.2" r="2.6"/>
<circle cx="522.51" cy="747.91" r="2.6"/>
<circle cx="523.85" cy="696.59" r="2.6"/>
<circle cx="530.8" cy="750.18" r="2.6"/>
<circle cx="521.76" cy="715.11" r="2.6"/>
<circle cx="531.46" cy="725.51" r="2.6"/>
<circle cx="534.55" cy="730.29" r="2.6"/>
<circle cx="523.72" cy="739.29" r="2.6"/>
<circle cx="524.94" cy="713.2" r="2.6"/>
<circle cx="535.26" cy="695" r="2.6"/>
<circle cx="520.7" cy="721.7" r="2.6"/>
<circle cx="533.1" cy="732.97" r="2.6"/>
<circle cx="523.35" cy="709.11" r="2.6"/>
<circle cx="529.04" cy="708.93" r="2.6"/>
<circle cx="531.01" cy="707.12" r="2.6"/>
<circle cx="537.17" cy="742.19" r="2.6"/>
<circle cx="527.43" cy="741.37" r="2.6"/>
<circle cx="537.42" cy="693.21" r="2.6"/>
<circle cx="524.75" cy="747.72" r="2.6"/>
<circle cx="520.46" cy="768.99" r="2.6"/>
<circle cx="533.44" cy="741.23" r="2.6"/>
<circle cx="531.68" cy="693.56" r="2.6"/>
<circle cx="527.39" cy="677.08" r="2.6"/>
<circle cx="519.16" cy="726.64" r="2.6"/>
<circle cx="522.21" cy="756.82" r="2.6"/>
<circle cx="519.22" cy="726.89" r="2.6"/>
<circle cx="533.39" cy="719.9" r="2.6"/>
<circle cx="529.32" cy="729.96" r="2.6"/>
<circle cx="528.64" cy="726.4" r="2.6"/>
<circle cx="521.03" cy="715.23" r="2.6"/>
<circle cx="523.08" cy="692.95" r="2.6"/>
<circle cx="532.52" cy="765.71" r="2.6"/>
<circle cx="532.97" cy="683.26" r="2.6"/>
<circle cx="534.35" cy="746.47" r="2.6"/>
<circle cx="526.46" cy="735.86" r="2.6"/>
<circle cx="536.64" cy="759.99" r="2.6"/>
<circle cx="526.76" cy="720.96" r="2.6"/>
<circle cx="522.01" cy="738.46" r="2.6"/>
<circle cx="522.02" cy="748.35" r="2.6"/>
<circle cx="526.43" cy="685.86" r="2.6"/>
<circle cx="537.43" cy="695.92" r="2.6"/>
<circle cx="520.18" cy="712.45" r="2.6"/>
<circle cx="536.56" cy="679.58" r="2.6"/>
<circle cx="537.33" cy="695.37" r="2.6"/>
<circle cx="520.57" cy="742.31" r="2.6"/>
<circle cx="532" cy="741.7" r="2.6"/>
<circle cx="521.57" cy="701.21" r="2.6"/>
<circle cx="521.79" cy="732.11" r="2.6"/>
<circle cx="526.74" cy="699.47" r="2.6"/>
<circle cx="533.34" cy="736.73" r="2.6"/>
<circle cx="527.03" cy="738.03" r="2.6"/>
<circle cx="535.76" cy="688.03" r="2.6"/>
<circle cx="532.85" cy="766.44" r="2.6"/>
<circle cx="536.26" cy="732.28" r="2.6"/>
<circle cx="527.27" cy="701.62" r="2.6"/>
<circle cx="519.73" cy="697.51" r="2.6"/>
<circle cx="520.58" cy="700.28" r="2.6"/>
<circle cx="524.32" cy="718.26" r="2.6"/>
<circle cx="529.56" cy="688.31" r="2.6"/>
<circle cx="535.33" cy="684.79" r="2.6"/>
<circle cx="525.96" cy="743.5" r="2.6"/>
<circle cx="525.53" cy="697.16" r="2.6"/>
<circle cx="536.72" cy="721.38" r="2.6"/>
<circle cx="520.61" cy="717.78" r="2.6"/>
<circle cx="522.65" cy="694.27" r="2.6"/>
<circle cx="536.03" cy="709.64" r="2.6"/>
<circle cx="534.58" cy="712.11" r="2.6"/>
<circle cx="532.07" cy="737.3" r="2.6"/>
<circle cx="531.57" cy="708.48" r="2.6"/>
<circle cx="531.7" cy="733.19" r="2.6"/>
<circle cx="527.63" cy="718.93" r="2.6"/>
<circle cx="537.07" cy="704.4" r="2.6"/>
<circle cx="535.98" cy="743.91" r="2.6"/>
<circle cx="532.78" cy="720.1" r="2.6"/>
<circle cx="522.91" cy="704.74" r="2.6"/>
<circle cx="524.31" cy="721.14" r="2.6"/>
<circle cx="521.47" cy="695.84" r="2.6"/>
<circle cx="520.1" cy="744.06" r="2.6"/>
<circle cx="519.8" cy="719.39" r="2.6"/>
<circle cx="525.22" cy="689.77" r="2.6"/>
<circle cx="526.01" cy="723.32" r="2.6"/>
<circle cx="524.04" cy="738.11" r="2.6"/>
<circle cx="522.56" cy="728.55" r="2.6"/>
<circle cx="535.53" cy="714.5" r="2.6"/>
<circle cx="524.75" cy="714.2" r="2.6"/>
<circle cx="522.64" cy="720.54" r="2.6"/>
<circle cx="536.68" cy="703.35" r="2.6"/>
<circle cx="524.55" cy="710" r="2.6"/>
<circle cx="521.15" cy="715.91" r="2.6"/>
<circle cx="523.08" cy="732.82" r="2.6"/>
<circle cx="528.72" cy="716.54" r="2.6"/>
<circle cx="526.25" cy="711.84" r="2.6"/>
<circle cx="527.52" cy="725.73" r="2.6"/>
<circle cx="522.77" cy="707.39" r="2.6"/>
<circle cx="529.1" cy="680.96" r="2.6"/>
<circle cx="531.85" cy="728.18" r="2.6"/>
<circle cx="531" cy="690.53" r="2.6"/>
<circle cx="519.88" cy="691.27" r="2.6"/>
<circle cx="529.27" cy="692.17" r="2.6"/>
<circle cx="532.05" cy="706.74" r="2.6"/>
<circle cx="523.27" cy="734.16" r="2.6"/>
<circle cx="528.84" cy="717.99" r="2.6"/>
<circle cx="524.91" cy="707.78" r="2.6"/>
<circle cx="537.47" cy="727.03" r="2.6"/>
<circle cx="525.93" cy="687.19" r="2.6"/>
<circle cx="525.45" cy="700.71" r="2.6"/>
<circle cx="535.97" cy="680.08" r="2.6"/>
<circle cx="530.52" cy="740.77" r="2.6"/>
<circle cx="521.35" cy="703.82" r="2.6"/>
<circle cx="529.64" cy="682.37" r="2.6"/>
<circle cx="536.33" cy="702.86" r="2.6"/>
<circle cx="537.29" cy="754.95" r="2.6"/>
<circle cx="533.25" cy="734.96" r="2.6"/>
<circle cx="532.55" cy="676.65" r="2.6"/>
<circle cx="535.22" cy="687.75" r="2.6"/>
<circle cx="535.7" cy="720.3" r="2.6"/>
<circle cx="533.59" cy="749.36" r="2.6"/>
<circle cx="535.77" cy="724.39" r="2.6"/>
<circle cx="529.67" cy="717.18" r="2.6"/>
<circle cx="521.41" cy="713.56" r="2.6"/>
<circle cx="534.14" cy="693.99" r="2.6"/>
<circle cx="535.82" cy="731.01" r="2.6"/>
<circle cx="525.91" cy="747.1" r="2.6"/>
<circle cx="526.06" cy="711.22" r="2.6"/>
<circle cx="527.36" cy="705.6" r="2.6"/>
<circle cx="527.41" cy="715.63" r="2.6"/>
<circle cx="534.22" cy="680.66" r="2.6"/>
<circle cx="533.99" cy="715.51" r="2.6"/>
<circle cx="525.13" cy="714.6" r="2.6"/>
<circle cx="537.03" cy="716.28" r="2.6"/>
<circle cx="532.07" cy="737.09" r="2.6"/>
<circle cx="521.25" cy="698.03" r="2.6"/>
<circle cx="519.63" cy="700.16" r="2.6"/>
<circle cx="533.41" cy="716.76" r="2.6"/>
<circle cx="535.06" cy="691.94" r="2.6"/>
<circle cx="523.56" cy="702.95" r="2.6"/>
<circle cx="520.86" cy="714.9" r="2.6"/>
<circle cx="532.47" cy="713.38" r="2.6"/>
<circle cx="535.28" cy="717.33" r="2.6"/>
<circle cx="533.93" cy="734.1" r="2.6"/>
<circle cx="534.68" cy="736.07" r="2.6"/>
<circle cx="520.02" cy="724.92" r="2.6"/>
<circle cx="525.77" cy="724.23" r="2.6"/>
<circle cx="518.31" cy="678.49" r="2.6"/>
<circle cx="526.62" cy="706.55" r="2.6"/>
<circle cx="531.3" cy="728.81" r="2.6"/>
<circle cx="534.07" cy="711.38" r="2.6"/>
<circle cx="521.01" cy="726.17" r="2.6"/>
<circle cx="533.4" cy="712.93" r="2.6"/>
<circle cx="520.46" cy="767.3" r="2.6"/>
<circle cx="534.91" cy="738.91" r="2.6"/>
<circle cx="528.78" cy="744.56" r="2.6"/>
<circle cx="534.4" cy="757.14" r="2.6"/>
<circle cx="534.18" cy="725.19" r="2.6"/>
<circle cx="536.54" cy="701.13" r="2.6"/>
<circle cx="532.42" cy="723.02" r="2.6"/>
<circle cx="524.9" cy="691.05" r="2.6"/>
<circle cx="522.78" cy="730.47" r="2.6"/>
<circle cx="519.17" cy="739.12" r="2.6"/>
<circle cx="536.98" cy="740.1" r="2.6"/>
<circle cx="526.23" cy="709.48" r="2.6"/>
<circle cx="532.41" cy="754.5" r="2.6"/>
<circle cx="528.37" cy="737.7" r="2.6"/>
<circle cx="537.14" cy="706.3" r="2.6"/>
<circle cx="528.7" cy="735.08" r="2.6"/>
<circle cx="528.81" cy="758.22" r="2.6"/>
<circle cx="529.5" cy="678.31" r="2.6"/>
<circle cx="536.4" cy="736.38" r="2.6"/>
<circle cx="529.71" cy="705.57" r="2.6"/>
<circle cx="521.02" cy="685.31" r="2.6"/>
<circle cx="533.04" cy="696.49" r="2.6"/>
<circle cx="521.41" cy="710.92" r="2.6"/>
<circle cx="534.18" cy="734.63" r="2.6"/>
<circle cx="527.88" cy="689.02" r="2.6"/>
<circle cx="523.36" cy="716.93" r="2.6"/>
<circle cx="525.85" cy="678.95" r="2.6"/>
<circle cx="533.75" cy="705.93" r="2.6"/>
<circle cx="532.85" cy="731.22" r="2.6"/>
<circle cx="531.92" cy="699.15" r="2.6"/>
<circle cx="537.21" cy="739.65" r="2.6"/>
<circle cx="526.52" cy="722.57" r="2.6"/>
<circle cx="524.88" cy="720.65" r="2.6"/>
<circle cx="526.05" cy="730.73" r="2.6"/>
<circle cx="522.08" cy="742.87" r="2.6"/>
<circle cx="525.83" cy="691.57" r="2.6"/>
<circle cx="533.14" cy="701.47" r="2.6"/>
<circle cx="535.58" cy="702.43" r="2.6"/>
<circle cx="533.45" cy="742.55" r="2.6"/>
<circle cx="536.37" cy="729.43" r="2.6"/>
<circle cx="526.47" cy="735.38" r="2.6"/>
<circle cx="522.36" cy="681.37" r="2.6"/>
<circle cx="532.38" cy="683.59" r="2.6"/>
<circle cx="525.61" cy="735.64" r="2.6"/>
<circle cx="520.09" cy="686.3" r="2.6"/>
<circle cx="523.66" cy="703.92" r="2.6"/>
<circle cx="529.2" cy="708.53" r="2.6"/>
<circle cx="520.32" cy="708.17" r="2.6"/>
<circle cx="536.43" cy="723.99" r="2.6"/>
<circle cx="528.27" cy="729.18" r="2.6"/>
<circle cx="520.92" cy="764.51" r="2.6"/>
<circle cx="520.87" cy="736.87" r="2.6"/>
<circle cx="520.91" cy="713.91" r="2.6"/>
<circle cx="526.01" cy="737.44" r="2.6"/>
<circle cx="537.05" cy="745.84" r="2.6"/>
<circle cx="524.44" cy="730.09" r="2.6"/>
<circle cx="533.67" cy="742.77" r="2.6"/>
<circle cx="532.32" cy="723.63" r="2.6"/>
<circle cx="530.1" cy="734.57" r="2.6"/>
<circle cx="525.68" cy="733.53" r="2.6"/>
<circle cx="519.3" cy="711.59" r="2.6"/>
<circle cx="536.89" cy="706.85" r="2.6"/>
<circle cx="537.43" cy="763.12" r="2.6"/>
<circle cx="532.48" cy="722.79" r="2.6"/>
<circle cx="531.82" cy="685.63" r="2.6"/>
<circle cx="522.46" cy="759.32" r="2.6"/>
<circle cx="531.43" cy="767.9" r="2.6"/>
<circle cx="536.47" cy="682.93" r="2.6"/>
<circle cx="527.28" cy="707.64" r="2.6"/>
<circle cx="534.97" cy="686.99" r="2.6"/>
<circle cx="534.08" cy="681.81" r="2.6"/>
<circle cx="519.39" cy="692.74" r="2.6"/>
<circle cx="526.9" cy="763.82" r="2.6"/>
<circle cx="527.51" cy="732.47" r="2.6"/>
<circle cx="530.77" cy="743.1" r="2.6"/>
<circle cx="529.02" cy="697.84" r="2.6"/>
<circle cx="520.33" cy="676.08" r="2.6"/>
<circle cx="533.59" cy="727.36" r="2.6"/>
<circle cx="533.37" cy="722.42" r="2.6"/>
<circle cx="529.43" cy="736.17" r="2.6"/>
<circle cx="535" cy="709.93" r="2.6"/>
<circle cx="524.05" cy="684.03" r="2.6"/>
<circle cx="532.22" cy="740.44" r="2.6"/>
<circle cx="522.42" cy="733.44" r="2.6"/>
<circle cx="527.65" cy="699.68" r="2.6"/>
<circle cx="527.4" cy="731.67" r="2.6"/>
<circle cx="535.03" cy="721.98" r="2.6"/>
<circle cx="519.39" cy="724.55" r="2.6"/>
<circle cx="521.76" cy="712" r="2.6"/>
<circle cx="526.04" cy="761.12" r="2.6"/>
<circle cx="531.37" cy="705.26" r="2.6"/>
<circle cx="525.63" cy="698.64" r="2.6"/>
<circle cx="522.03" cy="741.97" r="2.6"/>
<circle cx="519.16" cy="698.26" r="2.6"/>
<circle cx="536.63" cy="728.01" r="2.6"/>
<circle cx="519.49" cy="718.5" r="2.6"/>
<circle cx="525.68" cy="690" r="2.6"/>
<circle cx="526.86" cy="701.92" r="2.6"/>
<circle cx="527.56" cy="731.95" r="2.6"/>
<circle cx="525.82" cy="703.58" r="2.6"/>
<circle cx="524.64" cy="760.91" r="2.6"/>
<circle cx="531.57" cy="718.75" r="2.6"/>
<circle cx="534.11" cy="728.36" r="2.6"/>
<circle cx="531.84" cy="710.22" r="2.6"/>
<circle cx="526" cy="733.84" r="2.6"/>
<circle cx="529.03" cy="684.45" r="2.6"/>
<circle cx="527.19" cy="706.21" r="2.6"/>
<circle cx="535.53" cy="712.89" r="2.6"/>
<circle cx="518.51" cy="739.52" r="2.6"/>
<circle cx="531.03" cy="714.05" r="2.6"/>
<circle cx="518.69" cy="762.58" r="2.6"/>
<circle cx="525.47" cy="729.73" r="2.6"/>
<circle cx="520.94" cy="722.23" r="2.6"/>
<circle cx="533.66" cy="719.24" r="2.6"/>
<circle cx="525.89" cy="690.25" r="2.6"/>
<circle cx="531.65" cy="743.61" r="2.6"/>
<circle cx="523.71" cy="704.14" r="2.6"/>
<circle cx="519.73" cy="710.81" r="2.6"/>
<circle cx="530.92" cy="703.26" r="2.6"/>
<circle cx="534.41" cy="723.71" r="2.6"/>
<circle cx="534.87" cy="684.14" r="2.6"/>
<circle cx="523.19" cy="739.86" r="2.6"/>
<circle cx="518.3" cy="731.52" r="2.6"/>
<circle cx="522.34" cy="686.51" r="2.6"/>
<circle cx="533.27" cy="719.64" r="2.6"/>
<circle cx="527.34" cy="694.77" r="2.6"/>
<circle cx="533.95" cy="689.14" r="2.6"/>
<circle cx="530.3" cy="702.51" r="2.6"/>
<circle cx="520.45" cy="740.68" r="2.6"/>
<circle cx="530.97" cy="707.9" r="2.6"/>
<circle cx="524.23" cy="728.92" r="2.6"/>
<circle cx="525.45" cy="741.06" r="2.6"/>
<circle cx="524.81" cy="725.01" r="2.6"/>
<circle cx="533.47" cy="745.35" r="2.6"/>
<circle cx="531.8" cy="645.2" r="2.6"/>
<circle cx="521.9" cy="657.9" r="2.6"/>
<circle cx="527.6" cy="655.5" r="2.6"/>
<circle cx="531.8" cy="658.7" r="2.6"/>
<circle cx="534" cy="669" r="2.6"/>
<circle cx="535.3" cy="672.4" r="2.6"/>
<circle cx="526.4" cy="672.4" r="2.6"/>
<circle cx="520.7" cy="780.1" r="2.6"/>
<circle cx="528.4" cy="790.2" r="2.6"/>
<circle cx="531.4" cy="774.4" r="2.6"/>
<circle cx="535" cy="769.5" r="2.6"/>
<circle cx="520" cy="762" r="2.6"/>
<circle cx="523" cy="766" r="2.6"/>
</g>
<g stroke="#f28a0c" fill="none">
<line x1="626" y1="671.7" x2="626" y2="696.8" stroke-width="1.3"/>
<line x1="626" y1="720.3" x2="626" y2="752.4" stroke-width="1.3"/>
<rect x="601.4" y="696.8" width="49.2" height="23.5" stroke-width="1.3"/>
<line x1="601.4" y1="711.8" x2="650.6" y2="711.8" stroke-width="2.4"/>
</g>
<g fill="#f28500" fill-opacity="0.72" stroke="#000" stroke-width="0.7" stroke-opacity="0.85">
<circle cx="630.2" cy="658.5" r="2.6"/>
<circle cx="629.1" cy="670.9" r="2.6"/>
<circle cx="624.3" cy="681.7" r="2.6"/>
<circle cx="629.4" cy="683.6" r="2.6"/>
<circle cx="626.8" cy="685.3" r="2.6"/>
<circle cx="621.8" cy="689.7" r="2.6"/>
<circle cx="630.5" cy="690.2" r="2.6"/>
<circle cx="629.8" cy="693.3" r="2.6"/>
<circle cx="627.8" cy="695.3" r="2.6"/>
<circle cx="618.1" cy="700.2" r="2.6"/>
<circle cx="622.4" cy="706.4" r="2.6"/>
<circle cx="627.1" cy="707.6" r="2.6"/>
<circle cx="633.6" cy="708.3" r="2.6"/>
<circle cx="617" cy="712" r="2.6"/>
<circle cx="620.9" cy="711.8" r="2.6"/>
<circle cx="628.6" cy="711.4" r="2.6"/>
<circle cx="630.9" cy="712.6" r="2.6"/>
<circle cx="633.7" cy="713.8" r="2.6"/>
<circle cx="629.8" cy="715.7" r="2.6"/>
<circle cx="631.7" cy="716.1" r="2.6"/>
<circle cx="620.6" cy="719.2" r="2.6"/>
<circle cx="625.2" cy="720" r="2.6"/>
<circle cx="631.4" cy="719.5" r="2.6"/>
<circle cx="626.4" cy="723.4" r="2.6"/>
<circle cx="627.8" cy="724.9" r="2.6"/>
<circle cx="618.6" cy="724.2" r="2.6"/>
<circle cx="616.6" cy="727.3" r="2.6"/>
<circle cx="626.4" cy="732" r="2.6"/>
<circle cx="622.9" cy="736.1" r="2.6"/>
<circle cx="619.8" cy="752.4" r="2.6"/>
<circle cx="622.9" cy="753" r="2.6"/>
<circle cx="625.2" cy="710.5" r="2.6"/>
<circle cx="623.5" cy="711" r="2.6"/>
<circle cx="632.5" cy="717.5" r="2.6"/>
</g>
<line x1="50.2" y1="721.4" x2="363.7" y2="721.4" stroke="#000" stroke-width="1.3" stroke-dasharray="5.3,5.0"/>
<line x1="370.9" y1="721.4" x2="684.4" y2="721.4" stroke="#000" stroke-width="1.3" stroke-dasharray="5.3,5.0"/>
<line x1="49.7" y1="574" x2="49.7" y2="802.6" stroke="#151515" stroke-width="1.25"/>
<line x1="49.1" y1="802" x2="363.7" y2="802" stroke="#151515" stroke-width="1.25"/>
<line x1="371.5" y1="802" x2="685" y2="802" stroke="#151515" stroke-width="1.25"/>
<line x1="46.1" y1="789.7" x2="49.7" y2="789.7" stroke="#333" stroke-width="1.1"/>
<text x="43.4" y="793.5" font-size="10.7" text-anchor="end" fill="#4d4d4d" stroke="#4d4d4d" stroke-width="0.08" font-weight="normal">−2</text>
<line x1="46.1" y1="721.4" x2="49.7" y2="721.4" stroke="#333" stroke-width="1.1"/>
<text x="43.4" y="725.2" font-size="10.7" text-anchor="end" fill="#4d4d4d" stroke="#4d4d4d" stroke-width="0.08" font-weight="normal">0</text>
<line x1="46.1" y1="653.1" x2="49.7" y2="653.1" stroke="#333" stroke-width="1.1"/>
<text x="43.4" y="656.9" font-size="10.7" text-anchor="end" fill="#4d4d4d" stroke="#4d4d4d" stroke-width="0.08" font-weight="normal">2</text>
<line x1="46.1" y1="584.8" x2="49.7" y2="584.8" stroke="#333" stroke-width="1.1"/>
<text x="43.4" y="588.6" font-size="10.7" text-anchor="end" fill="#4d4d4d" stroke="#4d4d4d" stroke-width="0.08" font-weight="normal">4</text>
<line x1="135.6" y1="802" x2="135.6" y2="805.4" stroke="#333" stroke-width="1.1"/>
<line x1="278.5" y1="802" x2="278.5" y2="805.4" stroke="#333" stroke-width="1.1"/>
<line x1="430" y1="802" x2="430" y2="805.4" stroke="#333" stroke-width="1.1"/>
<line x1="527.9" y1="802" x2="527.9" y2="805.4" stroke="#333" stroke-width="1.1"/>
<line x1="626" y1="802" x2="626" y2="805.4" stroke="#333" stroke-width="1.1"/>
<text x="135.6" y="815.6" font-size="10.95" text-anchor="middle" fill="#4d4d4d" stroke="#4d4d4d" stroke-width="0.08" font-weight="normal">ADM</text>
<text x="135.6" y="827.05" font-size="10.95" text-anchor="middle" fill="#4d4d4d" stroke="#4d4d4d" stroke-width="0.08" font-weight="normal">Nondysmorphic ASD</text>
<text x="135.6" y="838.5" font-size="10.95" text-anchor="middle" fill="#4d4d4d" stroke="#4d4d4d" stroke-width="0.08" font-weight="normal">(n=142)</text>
<text x="278.5" y="815.6" font-size="10.95" text-anchor="middle" fill="#4d4d4d" stroke="#4d4d4d" stroke-width="0.08" font-weight="normal">ADM</text>
<text x="278.5" y="827.05" font-size="10.95" text-anchor="middle" fill="#4d4d4d" stroke="#4d4d4d" stroke-width="0.08" font-weight="normal">Dysmorphic ASD</text>
<text x="278.5" y="838.5" font-size="10.95" text-anchor="middle" fill="#4d4d4d" stroke="#4d4d4d" stroke-width="0.08" font-weight="normal">(n=46)</text>
<text x="430" y="815.6" font-size="10.95" text-anchor="middle" fill="#4d4d4d" stroke="#4d4d4d" stroke-width="0.08" font-weight="normal">Unaffected siblings</text>
<text x="430" y="827.05" font-size="10.95" text-anchor="middle" fill="#4d4d4d" stroke="#4d4d4d" stroke-width="0.08" font-weight="normal">(n=280)</text>
<text x="527.9" y="815.6" font-size="10.95" text-anchor="middle" fill="#4d4d4d" stroke="#4d4d4d" stroke-width="0.08" font-weight="normal">ADM</text>
<text x="527.9" y="827.05" font-size="10.95" text-anchor="middle" fill="#4d4d4d" stroke="#4d4d4d" stroke-width="0.08" font-weight="normal">Nondysmorphic ASD</text>
<text x="527.9" y="838.5" font-size="10.95" text-anchor="middle" fill="#4d4d4d" stroke="#4d4d4d" stroke-width="0.08" font-weight="normal">(n=311)</text>
<text x="626" y="815.6" font-size="10.95" text-anchor="middle" fill="#4d4d4d" stroke="#4d4d4d" stroke-width="0.08" font-weight="normal">ADM</text>
<text x="626" y="827.05" font-size="10.95" text-anchor="middle" fill="#4d4d4d" stroke="#4d4d4d" stroke-width="0.08" font-weight="normal">Dysmorphic ASD</text>
<text x="626" y="838.5" font-size="10.95" text-anchor="middle" fill="#4d4d4d" stroke="#4d4d4d" stroke-width="0.08" font-weight="normal">(n=34)</text>
<text transform="translate(11.3,685.5) rotate(-90) scale(1,1.1)" font-size="13.15" text-anchor="middle" fill="#000" stroke="#000" stroke-width="0.22">PRS difference from the parental</text>
<text transform="translate(25.6,672.1) rotate(-90) scale(1,1.1)" font-size="13" text-anchor="middle" fill="#000" stroke="#000" stroke-width="0.22">average (pTDT deviation)</text>
<text transform="translate(107.9,607.75) scale(1,1.1)" font-size="12.8" fill="#000" stroke="#000" stroke-width="0.22"><tspan font-style="italic">P</tspan>=6.7x10<tspan dx="0.9" dy="-4.5" font-size="9">-3</tspan></text>
<text transform="translate(257.5,607.75) scale(1,1.1)" font-size="12.8" fill="#000" stroke="#000" stroke-width="0.22"><tspan font-style="italic">P</tspan>=0.17</text>
<text transform="translate(409.9,607.75) scale(1,1.1)" font-size="12.8" fill="#000" stroke="#000" stroke-width="0.22"><tspan font-style="italic">P</tspan>=0.88</text>
<text transform="translate(500.5,607.75) scale(1,1.1)" font-size="12.8" fill="#000" stroke="#000" stroke-width="0.22"><tspan font-style="italic">P</tspan>=6.3x10<tspan dx="0.9" dy="-4.5" font-size="9">-3</tspan></text>
<text transform="translate(598.3,607.75) scale(1,1.1)" font-size="12.8" fill="#000" stroke="#000" stroke-width="0.22"><tspan font-style="italic">P</tspan>=1.3x10<tspan dx="0.9" dy="-4.5" font-size="9">-3</tspan></text>
</svg></body></html>
